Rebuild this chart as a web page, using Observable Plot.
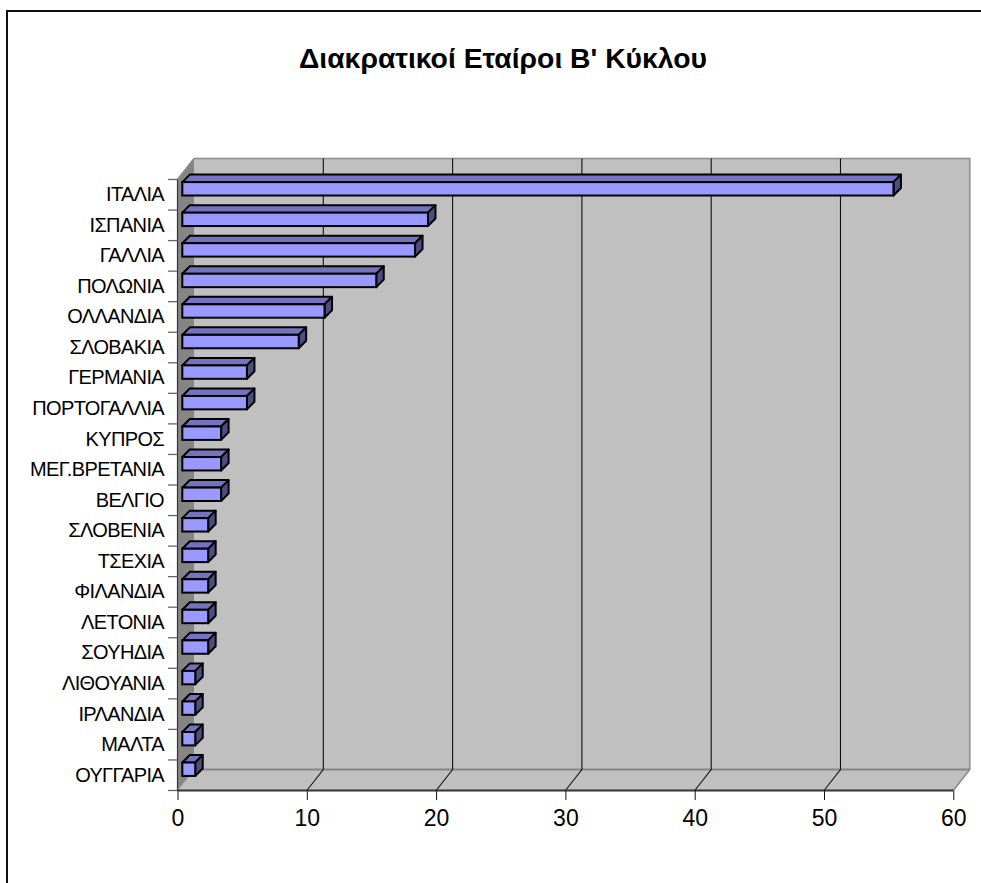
<!DOCTYPE html>
<html><head><meta charset="utf-8">
<script src="https://cdn.jsdelivr.net/npm/d3@7"></script>
<script src="https://cdn.jsdelivr.net/npm/@observablehq/plot@0.6"></script>
<style>
html,body{margin:0;padding:0;background:#fff;overflow:hidden}
#wrap{position:relative;width:981px;height:883px}
#frame{position:absolute;left:6px;top:10px;width:975px;height:873px;border-left:2px solid #111;border-top:2px solid #111;box-sizing:border-box}
#title{position:absolute;left:7px;width:992px;top:42px;text-align:center;font:bold 28.3px "Liberation Sans",Arial,sans-serif;color:#000;line-height:32px}
svg{position:absolute;left:0;top:0}
.yl text{letter-spacing:-0.65px}
</style></head><body>
<div id="wrap"><div id="frame"></div><div id="title">Διακρατικοί Εταίροι Β' Κύκλου</div></div>
<script>
const countries = ["ΙΤΑΛΙΑ","ΙΣΠΑΝΙΑ","ΓΑΛΛΙΑ","ΠΟΛΩΝΙΑ","ΟΛΛΑΝΔΙΑ","ΣΛΟΒΑΚΙΑ","ΓΕΡΜΑΝΙΑ","ΠΟΡΤΟΓΑΛΛΙΑ","ΚΥΠΡΟΣ","ΜΕΓ.ΒΡΕΤΑΝΙΑ","ΒΕΛΓΙΟ","ΣΛΟΒΕΝΙΑ","ΤΣΕΧΙΑ","ΦΙΛΑΝΔΙΑ","ΛΕΤΟΝΙΑ","ΣΟΥΗΔΙΑ","ΛΙΘΟΥΑΝΙΑ","ΙΡΛΑΝΔΙΑ","ΜΑΛΤΑ","ΟΥΓΓΑΡΙΑ"];
const partners = [55,19,18,15,11,9,5,5,3,3,3,2,2,2,2,2,1,1,1,1];
const xTicks = [0,10,20,30,40,50,60];
const table = countries.map((country,i)=>({country,value:partners[i]}));

const wallDx = 16.5, wallDy = 21;      // depth of the chart box
const barShiftX = 4.8, barShiftY = 2.6, barThick = 13.4, barDepth = 7.5;

const pts = a => a.map(p=>p.join(",")).join(" ");
function poly(g,a,fill,stroke,sw){
  g.append("polygon").attr("points",pts(a)).attr("fill",fill).attr("stroke",stroke||"none").attr("stroke-width",sw||0).attr("stroke-linejoin","round");
}
function seg(g,a,stroke,sw){
  g.append("polyline").attr("points",pts(a)).attr("fill","none").attr("stroke",stroke).attr("stroke-width",sw);
}

function walls(index,{x,y}){
  const g = d3.create("svg:g");
  const L=x(0),R=x(60),T=y(countries[0]),B=y(countries[countries.length-1])+y.bandwidth();
  poly(g,[[L+wallDx,T-wallDy],[R+wallDx,T-wallDy],[R+wallDx,B-wallDy],[L+wallDx,B-wallDy]],"#c0c0c0");
  poly(g,[[L,T],[L+wallDx,T-wallDy],[L+wallDx,B-wallDy],[L,B]],"#858585");
  poly(g,[[L,B],[L+wallDx,B-wallDy],[R+wallDx,B-wallDy],[R,B]],"#c0c0c0");
  seg(g,[[L,T],[L+wallDx,T-wallDy],[R+wallDx,T-wallDy],[R+wallDx,B-wallDy],[R,B]],"#8c8c8c",1.6);
  seg(g,[[L,B],[L+wallDx,B-wallDy]],"#9a9a9a",1.2);
  seg(g,[[L+wallDx,B-wallDy],[R+wallDx,B-wallDy]],"#858585",2);
  for(const v of xTicks.slice(1,-1)){
    seg(g,[[x(v),B],[x(v)+wallDx,B-wallDy],[x(v)+wallDx,T-wallDy]],"#111",1.1);
  }
  seg(g,[[L,T],[L,B]],"#333",1.2);
  seg(g,[[L,B],[R,B]],"#333",2);
  // band boundary ticks
  const edges = countries.map(c=>y(c)).concat([B]);
  for(const e of edges) seg(g,[[L-9.5,e],[L,e]],"#666",1.3);
  return g.node();
}

function faces(index,{x,y}){
  const g = d3.create("svg:g");
  table.forEach(d=>{
    const x0=x(0)+barShiftX, x1=x(d.value)+barShiftX;
    const t=y(d.country)+barShiftY, b=t+barThick;
    poly(g,[[x0,t],[x0+barDepth,t-barDepth],[x1+barDepth,t-barDepth],[x1,t]],"#7373bf","#000",2);
    poly(g,[[x1,t],[x1+barDepth,t-barDepth],[x1+barDepth,b-barDepth],[x1,b]],"#4d4d80","#000",2);
  });
  return g.node();
}

const plot = Plot.plot({
  width:981,height:883,
  marginLeft:177.5,marginRight:27.7,marginTop:179.5,marginBottom:92.5,
  style:{background:"transparent",fontFamily:'"Liberation Sans",Arial,sans-serif',color:"#000"},
  x:{domain:[0,60]},
  y:{domain:countries,padding:0,round:false},
  marks:[
    walls,
    faces,
    Plot.barX(table,{x:"value",y:"country",fill:"#9999ff",stroke:"#000",strokeWidth:2,dx:barShiftX,
      insetTop:barShiftY,insetBottom:30.55-barShiftY-barThick}),
    Plot.axisY({anchor:"left",tickSize:0,tickPadding:14,fontSize:20,label:null,className:"yl",color:"#000",dy:-0.5}),
    Plot.axisX({anchor:"bottom",ticks:xTicks,tickSize:9.5,tickPadding:9.5,fontSize:23,label:null,color:"#000",stroke:"#111",tickFormat:d=>String(d)})
  ]
});
document.getElementById("wrap").prepend(plot);
</script>
</body></html>
